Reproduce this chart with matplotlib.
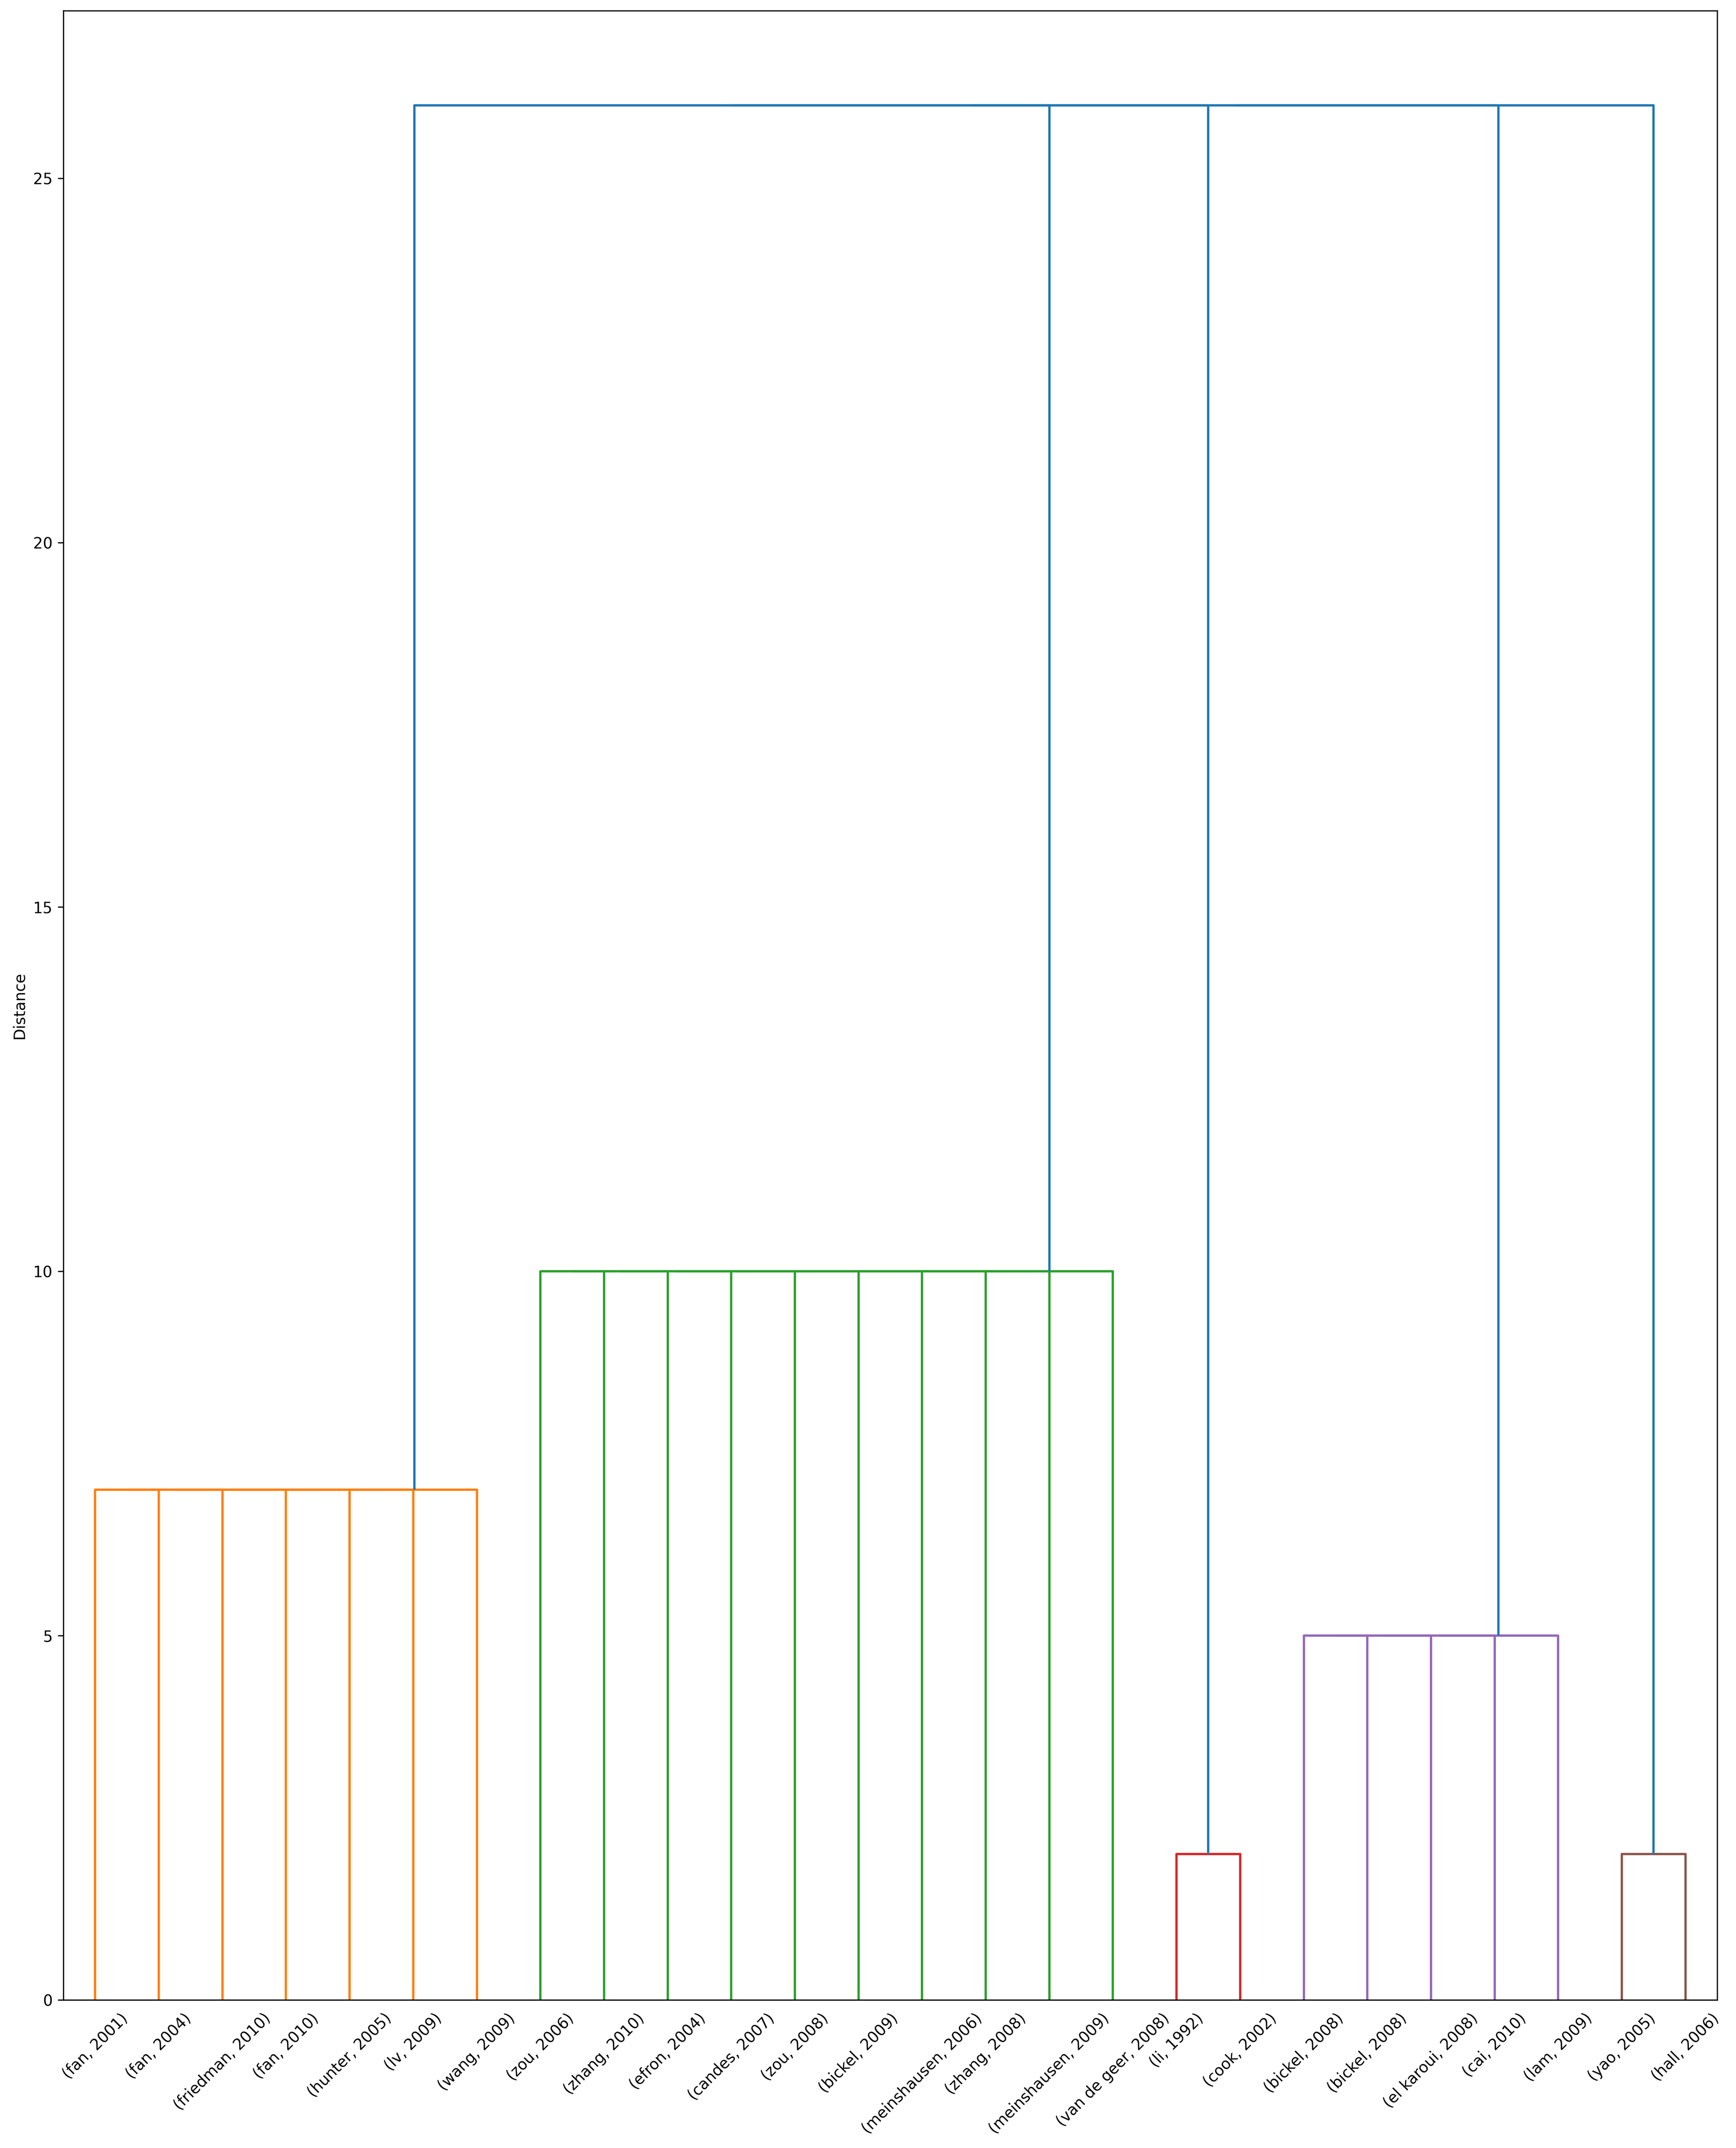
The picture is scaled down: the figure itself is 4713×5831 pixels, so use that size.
import numpy as np
import matplotlib
matplotlib.use("Agg")
import matplotlib.pyplot as plt
from matplotlib.collections import LineCollection

# leaves, left to right
leaf_labels = [
    '(fan, 2001)', '(fan, 2004)', '(friedman, 2010)', '(fan, 2010)',
    '(hunter, 2005)', '(lv, 2009)', '(wang, 2009)',
    '(zou, 2006)', '(zhang, 2010)', '(efron, 2004)', '(candes, 2007)',
    '(zou, 2008)', '(bickel, 2009)', '(meinshausen, 2006)', '(zhang, 2008)',
    '(meinshausen, 2009)', '(van de geer, 2008)',
    '(li, 1992)', '(cook, 2002)',
    '(bickel, 2008)', '(bickel, 2008)', '(el karoui, 2008)', '(cai, 2010)',
    '(lam, 2009)',
    '(yao, 2005)', '(hall, 2006)',
]
# clusters: number of leaves and merge distance of each
cluster_sizes = [7, 10, 2, 5, 2]
cluster_heights = [7.0, 10.0, 2.0, 5.0, 2.0]
top_height = 26.0

cluster_colors = ['#ff7f0e', '#2ca02c', '#d62728', '#9467bd', '#8c564b']
above_color = '#1f77b4'


def build_merges(sizes, heights, top):
    """Chain-merge leaves inside each cluster, then chain-merge the clusters."""
    merges = []
    next_id = sum(sizes)
    roots = []
    start = 0
    for k, (n, h) in enumerate(zip(sizes, heights)):
        node = start
        for leaf in range(start + 1, start + n):
            merges.append((node, leaf, h, k))
            node = next_id
            next_id += 1
        roots.append(node)
        start += n
    node = roots[0]
    for r in roots[1:]:
        merges.append((node, r, top, -1))
        node = next_id
        next_id += 1
    return merges


def dendrogram_lines(n_leaves, merges):
    xs = {i: 5.0 + 10.0 * i for i in range(n_leaves)}
    ys = {i: 0.0 for i in range(n_leaves)}
    segs, cols = [], []
    node = n_leaves
    for a, b, h, k in merges:
        segs.append([(xs[a], ys[a]), (xs[a], h), (xs[b], h), (xs[b], ys[b])])
        cols.append(cluster_colors[k] if k >= 0 else above_color)
        xs[node] = (xs[a] + xs[b]) / 2.0
        ys[node] = h
        node += 1
    return xs, segs, cols


merges = build_merges(cluster_sizes, cluster_heights, top_height)
n = len(leaf_labels)
xs, segs, cols = dendrogram_lines(n, merges)

fig = plt.figure(figsize=(4713 / 300, 5831 / 300), dpi=300)
fig.subplots_adjust(left=172 / 4713, right=4662 / 4713,
                    top=1 - 29 / 5831, bottom=1 - 5429 / 5831)
ax = fig.add_subplot(111)

for color in dict.fromkeys(cols):
    group = [s for s, c in zip(segs, cols) if c == color]
    ax.add_collection(LineCollection(group, colors=(color,), linewidths=1.5))

max_h = max(m[2] for m in merges)
ax.set_xlim(0, 10 * n)
ax.set_ylim(0, max_h * 1.05)
ax.set_xticks([xs[i] for i in range(n)])
ax.set_xticklabels(leaf_labels, rotation=45, size=10)
for line in ax.get_xticklines():
    line.set_visible(False)
ax.set_yticks([0, 5, 10, 15, 20, 25])
ax.set_ylabel('Distance')

fig.savefig('out.png', dpi=300)
